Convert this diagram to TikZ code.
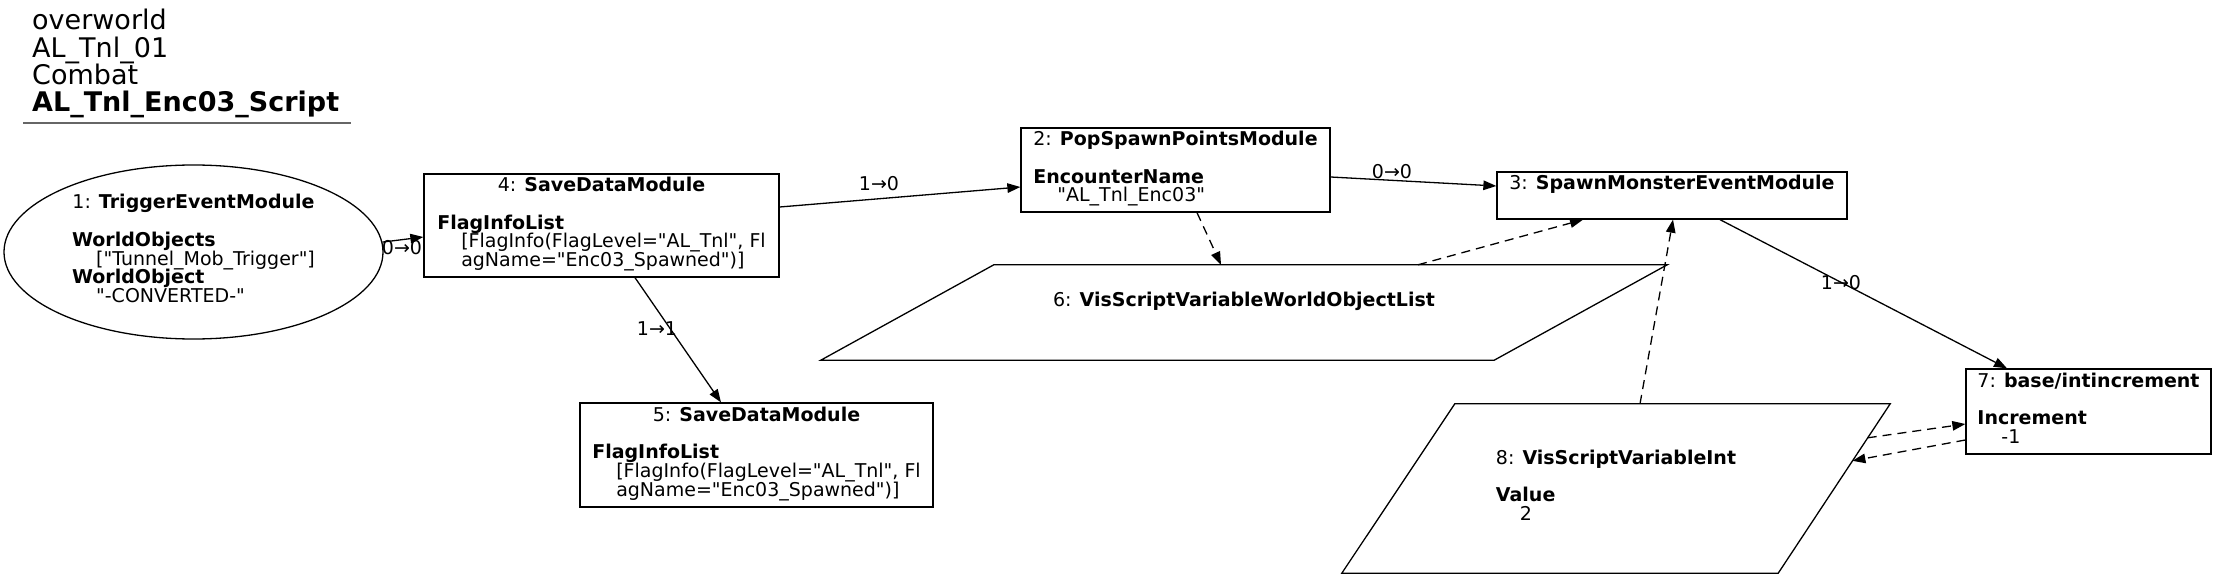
\documentclass[tikz,border=0pt]{standalone}
\usepackage{fontspec}
\setmainfont{DejaVu Sans}[Ligatures=TeXOff]
\usetikzlibrary{shapes.geometric,arrows.meta}
\newcommand{\nodefont}{\fontsize{19}{18.7}\selectfont}
\newcommand{\titlefont}{\fontsize{27}{27.3}\selectfont}
\newcommand{\ntxt}[1]{\smash{#1}}
\newcommand{\nttl}[1]{\multicolumn{1}{@{}c@{}}{\smash{#1}}}
\newcommand{\nind}{\hspace*{24pt}}
\begin{document}
\begin{tikzpicture}[x=1pt,y=1pt,
  box/.style={draw, line width=1.3pt, inner sep=0pt, font=\nodefont},
  plain/.style={inner sep=0pt, font=\nodefont},
  ttl/.style={inner sep=0pt, font=\titlefont, anchor=base west},
  lbl/.style={inner sep=0pt, font=\nodefont, fill=none},
  edge/.style={-{Triangle[length=13pt,width=9.5pt]}, line width=1.3pt},
  dedge/.style={edge, dash pattern=on 9pt off 6pt}]
\fill[white] (0,0) rectangle (2216,-580);
\path[use as bounding box] (0,0) rectangle (2216,-580);

% title
\node[ttl] (t1) at (32,-30) {overworld};
\node[ttl] (t2) at (32,-57.3) {AL\_Tnl\_01};
\node[ttl] (t3) at (32,-84.6) {Combat};
\node[ttl] (t4) at (32,-112) {\textbf{AL\_Tnl\_Enc03\_Script}};
\draw[line width=1.6pt, black!60] (23,-123) -- (351,-123);

% nodes
\node[box, ellipse, minimum width=379pt, minimum height=174pt] (n1) at (193.5,-252)
 {\begin{tabular}{@{}l@{}}\nttl{1: \textbf{TriggerEventModule}}\\ \\ \ntxt{\textbf{WorldObjects}}\\ \ntxt{\nind["Tunnel\_Mob\_Trigger"]}\\ \ntxt{\textbf{WorldObject}}\\ \ntxt{\nind"-CONVERTED-"}\end{tabular}};

\node[box, minimum width=355pt, minimum height=103pt] (n4) at (601.5,-225.5)
 {\begin{tabular}{@{}l@{}}\nttl{4: \textbf{SaveDataModule}}\\ \\ \ntxt{\textbf{FlagInfoList}}\\ \ntxt{\nind[FlagInfo(FlagLevel="AL\_Tnl", Fl}\\ \ntxt{\nind agName="Enc03\_Spawned")]}\end{tabular}};

\node[box, minimum width=353pt, minimum height=104pt] (n5) at (756.5,-455)
 {\begin{tabular}{@{}l@{}}\nttl{5: \textbf{SaveDataModule}}\\ \\ \ntxt{\textbf{FlagInfoList}}\\ \ntxt{\nind[FlagInfo(FlagLevel="AL\_Tnl", Fl}\\ \ntxt{\nind agName="Enc03\_Spawned")]}\end{tabular}};

\node[box, minimum width=309pt, minimum height=84pt] (n2) at (1175.5,-170)
 {\begin{tabular}{@{}l@{}}\nttl{2: \textbf{PopSpawnPointsModule}}\\ \\ \ntxt{\textbf{EncounterName}}\\ \ntxt{\nind"AL\_Tnl\_Enc03"}\end{tabular}};

\node[box, minimum width=350pt, minimum height=47pt] (n3) at (1672,-195.5)
 {\begin{tabular}{@{}l@{}}\nttl{3: \textbf{SpawnMonsterEventModule}}\\ \\ \end{tabular}};

\node[box, minimum width=245pt, minimum height=85pt] (n7) at (2088.5,-411.5)
 {\begin{tabular}{@{}l@{}}\nttl{7: \textbf{base/intincrement}}\\ \\ \ntxt{\textbf{Increment}}\\ \ntxt{\nind-1}\end{tabular}};

\node[plain, minimum width=846pt, minimum height=95pt] (n6) at (1244,-312.5)
 {\begin{tabular}{@{}l@{}}\nttl{6: \textbf{VisScriptVariableWorldObjectList}}\\ \\ \end{tabular}};
\draw[line width=1.3pt] (n6.south west) -- ([xshift=173pt]n6.north west) -- (n6.north east) -- ([xshift=-173pt]n6.south east) -- cycle;

\node[plain, minimum width=548pt, minimum height=169pt] (n8) at (1616,-488.5)
 {\begin{tabular}{@{}l@{}}\nttl{8: \textbf{VisScriptVariableInt}}\\ \\ \ntxt{\textbf{Value}}\\ \ntxt{\nind 2}\end{tabular}};
\draw[line width=1.3pt] (n8.south west) -- ([xshift=113pt]n8.north west) -- (n8.north east) -- ([xshift=-112pt]n8.south east) -- cycle;

% edges
\draw[edge] (n1.3.7) -- ([yshift=-11.5pt]n4.west);
\node[lbl] (l14) at (402,-248) {0→0};

\draw[edge] ([yshift=18.5pt]n4.east) -- ([yshift=-17pt]n2.west);
\node[lbl] (l42) at (879,-184) {1→0};

\draw[edge] ([xshift=33.5pt]n4.south) -- ([xshift=-35.5pt]n5.north);
\node[lbl] (l45) at (657,-329) {1→1};

\draw[edge] ([yshift=-7pt]n2.east) -- ([yshift=9.5pt]n3.west);
\node[lbl] (l23) at (1392,-172) {0→0};

\draw[edge] ([xshift=48pt]n3.south) -- ([xshift=-81.5pt]n7.north);
\node[lbl] (l37) at (1841,-283) {1→0};

\draw[dedge] ([xshift=21.5pt]n2.south) -- ([xshift=-23pt]n6.north);
\draw[dedge] ([xshift=174pt]n6.north) -- ([xshift=-89pt]n3.south);
\draw[dedge] ([xshift=24pt]n8.north) -- ([xshift=1pt]n3.south);
\draw[dedge] ([xshift=-22.5pt,yshift=-34pt]n8.north east) -- ([yshift=-12.5pt]n7.west);
\draw[dedge] ([yshift=-28.5pt]n7.west) -- ([xshift=-37.8pt,yshift=-57pt]n8.north east);
\end{tikzpicture}
\end{document}
